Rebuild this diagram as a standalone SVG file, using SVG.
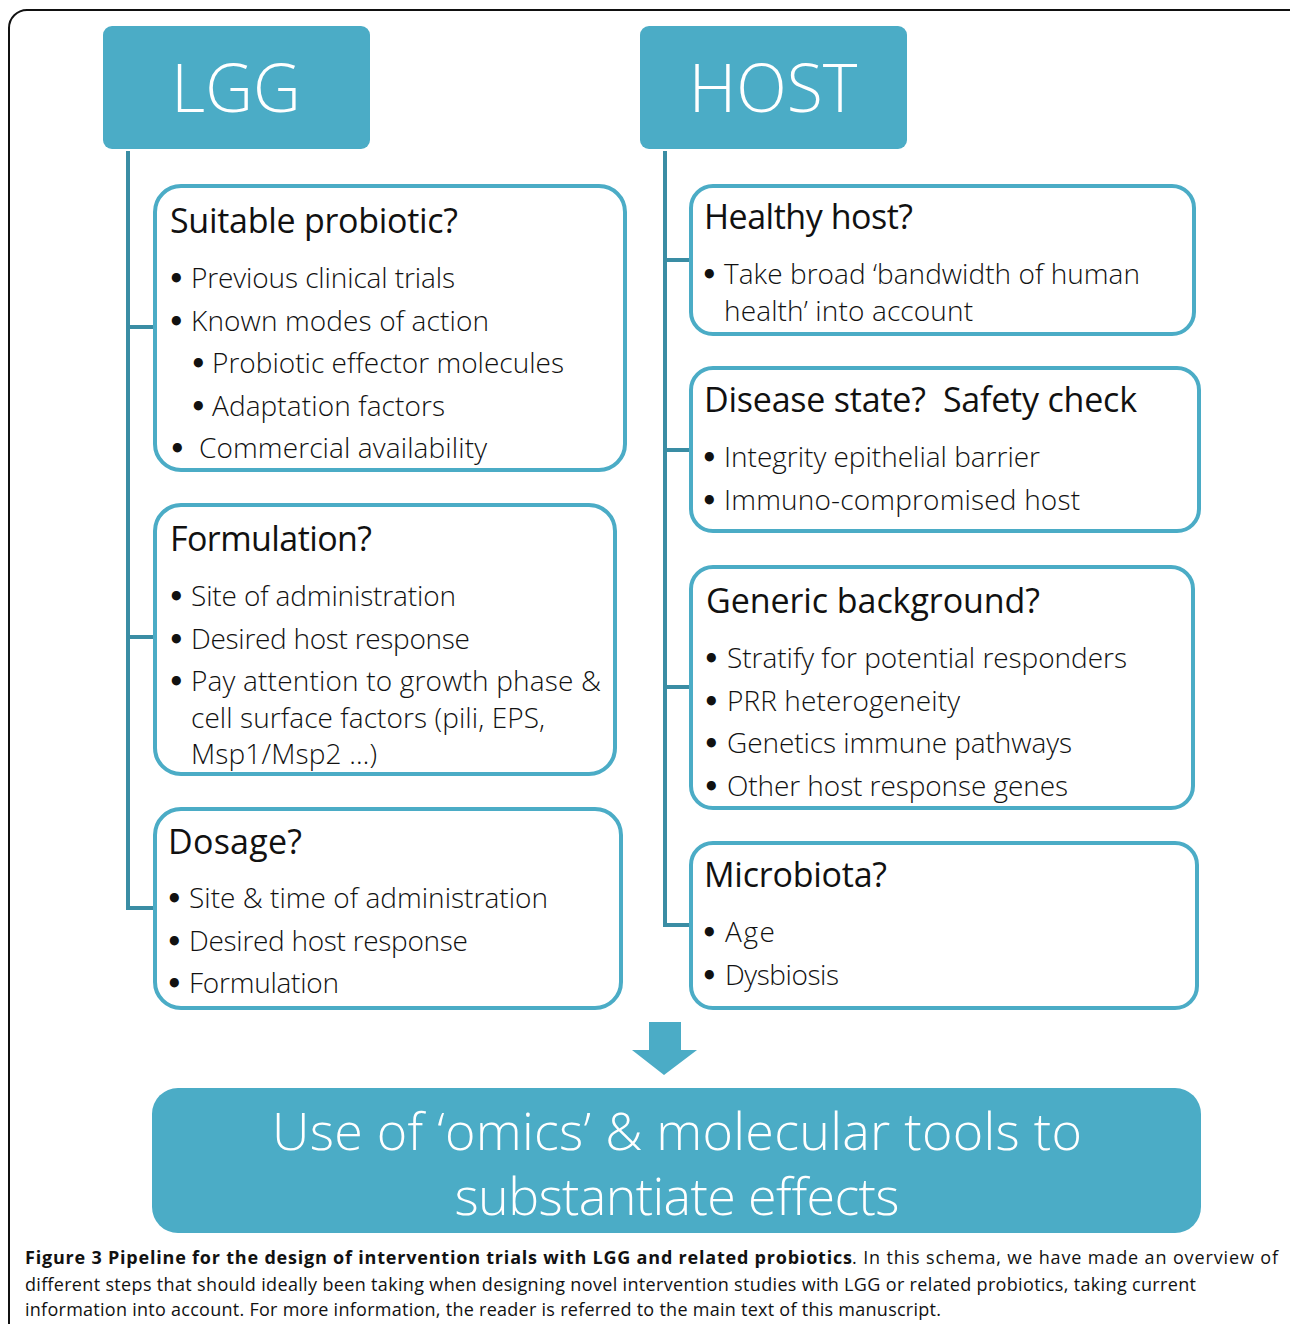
<svg xmlns="http://www.w3.org/2000/svg" width="1290" height="1324" viewBox="0 0 1290 1324">
<style>
.frame{fill:#fff;stroke:#111;stroke-width:2}
.hdr{fill:#4BACC6}
.box{fill:#fff;stroke:#4BACC6;stroke-width:4}
.conn{fill:none;stroke:#3A8DA4;stroke-width:4}
.hdrt{font-family:"Open Sans","Liberation Sans",sans-serif;font-weight:300;fill:#fff;text-anchor:middle}
.ttl{font-family:"Open Sans","Liberation Sans",sans-serif;font-size:34px;fill:#111;white-space:pre}
.itm{font-family:"Open Sans","Liberation Sans",sans-serif;font-weight:300;font-size:28px;fill:#111}
.bul{font-family:"DejaVu Sans",sans-serif;font-weight:bold;font-size:26px;fill:#111}
.cap{font-family:"Open Sans","Liberation Sans",sans-serif;font-size:18px;fill:#111}
.capb{font-weight:bold}
</style>
<rect class="frame" x="9" y="10" width="1300" height="1340" rx="18"/>

<g id="connectors">
<path class="conn" d="M128 151 V908 H155 M128 327 H155 M128 637 H155"/>
<path class="conn" d="M665 151 V925 H691 M665 260 H691 M665 450 H691 M665 687 H691"/>
<path d="M649 1022 H681 V1050 H697 L664 1075 L632 1050 H649 Z" fill="#4BACC6"/>
</g>

<g id="lgg">
<rect class="hdr" x="103" y="26" width="267" height="123" rx="9"/>
<text class="hdrt" x="236" y="112" font-size="66">LGG</text>
</g>
<g id="host">
<rect class="hdr" x="640" y="26" width="267" height="123" rx="9"/>
<text class="hdrt" x="773" y="112" font-size="66">HOST</text>
</g>

<g id="suitable">
<rect class="box" x="155" y="186" width="470" height="284" rx="26"/>
<text class="ttl" x="170" y="233" textLength="288">Suitable probiotic?</text>
<text class="bul" x="168" y="288">•</text><text class="itm" x="191" y="288" textLength="264">Previous clinical trials</text>
<text class="bul" x="168" y="331">•</text><text class="itm" x="191" y="331" textLength="298">Known modes of action</text>
<text class="bul" x="190" y="373">•</text><text class="itm" x="212" y="373" textLength="352">Probiotic effector molecules</text>
<text class="bul" x="190" y="416">•</text><text class="itm" x="212" y="416" textLength="233">Adaptation factors</text>
<text class="bul" x="169" y="458">•</text><text class="itm" x="199" y="458" textLength="288">Commercial availability</text>
</g>

<g id="formulation">
<rect class="box" x="155" y="505" width="460" height="269" rx="26"/>
<text class="ttl" x="170" y="551" textLength="202">Formulation?</text>
<text class="bul" x="168" y="606">•</text><text class="itm" x="191" y="606" textLength="265">Site of administration</text>
<text class="bul" x="168" y="649">•</text><text class="itm" x="191" y="649" textLength="279">Desired host response</text>
<text class="bul" x="168" y="691">•</text><text class="itm" x="191" y="691" textLength="410">Pay attention to growth phase &amp;</text>
<text class="itm" x="191" y="728" textLength="354">cell surface factors (pili, EPS,</text>
<text class="itm" x="191" y="764" textLength="186">Msp1/Msp2 …)</text>
</g>

<g id="dosage">
<rect class="box" x="155" y="809" width="466" height="199" rx="26"/>
<text class="ttl" x="168" y="854" textLength="134">Dosage?</text>
<text class="bul" x="166" y="908">•</text><text class="itm" x="189" y="908" textLength="359">Site &amp; time of administration</text>
<text class="bul" x="166" y="951">•</text><text class="itm" x="189" y="951" textLength="279">Desired host response</text>
<text class="bul" x="166" y="993">•</text><text class="itm" x="189" y="993" textLength="150">Formulation</text>
</g>

<g id="healthy">
<rect class="box" x="691" y="186" width="503" height="148" rx="22"/>
<text class="ttl" x="704" y="229" textLength="209">Healthy host?</text>
<text class="bul" x="701" y="284">•</text><text class="itm" x="724" y="284" textLength="416">Take broad ‘bandwidth of human</text>
<text class="itm" x="724" y="321" textLength="249">health’ into account</text>
</g>

<g id="disease">
<rect class="box" x="691" y="368" width="508" height="163" rx="22"/>
<text class="ttl" x="704" y="412" textLength="433" xml:space="preserve">Disease state?  Safety check</text>
<text class="bul" x="701" y="467">•</text><text class="itm" x="724" y="467" textLength="316">Integrity epithelial barrier</text>
<text class="bul" x="701" y="510">•</text><text class="itm" x="724" y="510" textLength="356">Immuno-compromised host</text>
</g>

<g id="generic">
<rect class="box" x="691" y="567" width="502" height="241" rx="22"/>
<text class="ttl" x="706" y="613" textLength="334">Generic background?</text>
<text class="bul" x="703" y="668">•</text><text class="itm" x="727" y="668" textLength="400">Stratify for potential responders</text>
<text class="bul" x="703" y="711">•</text><text class="itm" x="727" y="711" textLength="233">PRR heterogeneity</text>
<text class="bul" x="703" y="753">•</text><text class="itm" x="727" y="753" textLength="345">Genetics immune pathways</text>
<text class="bul" x="703" y="796">•</text><text class="itm" x="727" y="796" textLength="341">Other host response genes</text>
</g>

<g id="microbiota">
<rect class="box" x="691" y="843" width="506" height="165" rx="22"/>
<text class="ttl" x="704" y="887" textLength="183">Microbiota?</text>
<text class="bul" x="701" y="942">•</text><text class="itm" x="725" y="942" textLength="50">Age</text>
<text class="bul" x="701" y="985">•</text><text class="itm" x="725" y="985" textLength="114">Dysbiosis</text>
</g>

<g id="omics">
<rect class="hdr" x="152" y="1088" width="1049" height="145" rx="26"/>
<text class="hdrt" x="677" y="1150" font-size="52" textLength="810">Use of ‘omics’ &amp; molecular tools to</text>
<text class="hdrt" x="677" y="1215" font-size="52" textLength="445">substantiate effects</text>
</g>

<g id="caption">
<text class="cap capb" x="25" y="1264" textLength="827">Figure 3 Pipeline for the design of intervention trials with LGG and related probiotics</text>
<text class="cap" x="852" y="1264" textLength="426">. In this schema, we have made an overview of</text>
<text class="cap" x="25" y="1291" textLength="1171">different steps that should ideally been taking when designing novel intervention studies with LGG or related probiotics, taking current</text>
<text class="cap" x="25" y="1316" textLength="916">information into account. For more information, the reader is referred to the main text of this manuscript.</text>
</g>
</svg>
